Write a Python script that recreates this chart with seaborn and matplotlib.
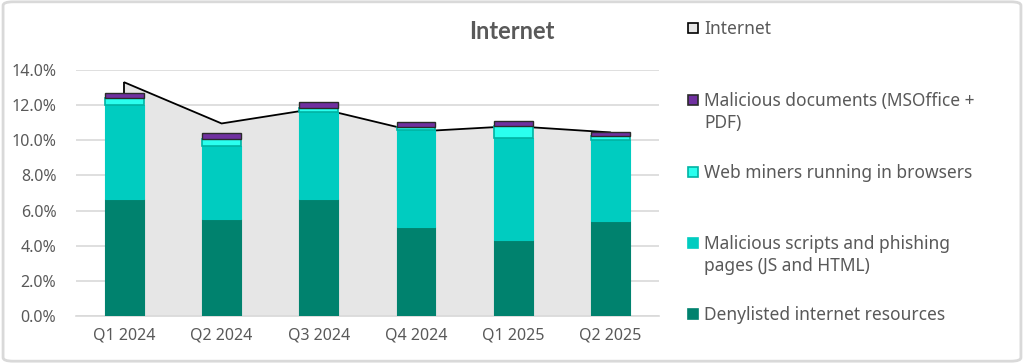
import numpy as np
import pandas as pd
import matplotlib
matplotlib.use('Agg')
import matplotlib.pyplot as plt
import matplotlib.patches as mpatches
import seaborn as sns

# data (percent)
quarters = ['Q1 2024', 'Q2 2024', 'Q3 2024', 'Q4 2024', 'Q1 2025', 'Q2 2025']
denylisted = [6.65, 5.51, 6.65, 5.07, 4.35, 5.38]
scripts = [5.35, 4.18, 4.95, 5.49, 5.81, 4.63]
miners = [0.39, 0.40, 0.25, 0.21, 0.65, 0.23]
documents = [0.28, 0.30, 0.31, 0.28, 0.27, 0.25]
internet = [13.3, 10.96, 11.83, 10.5, 10.81, 10.45]

sns.set_theme(style='white')
plt.rcParams['font.family'] = ['Noto Sans', 'DejaVu Sans']
grey_txt = '#595959'

fig = plt.figure(figsize=(10.24, 3.63), dpi=100)
ax = fig.add_axes([0.074, 0.1295, 0.5696, 0.6775])

df = pd.DataFrame({'Quarter': quarters, 'Internet': internet})
df['pos'] = np.arange(len(quarters))

#Internet area behind the bars
ax.fill_between(df['pos'], 0, df['Internet'], color='#e6e6e6', lw=0, zorder=1)
sns.lineplot(x='pos', y='Internet', data=df, color='black', lw=1.3, ax=ax, zorder=2)
ax.vlines([df['pos'].iloc[0], df['pos'].iloc[-1]], 0, [internet[0], internet[-1]],
          color='black', lw=1.3, zorder=2)

#Stacked bars
x = df['pos'].values
w = 0.4
b1 = np.array(denylisted)
b2 = b1 + np.array(scripts)
b3 = b2 + np.array(miners)
ax.bar(x, denylisted, w, color='#00826e', edgecolor='#00826e', lw=0.8, zorder=3)
ax.bar(x, scripts, w, bottom=b1, color='#00ccc0', edgecolor='#00ccc0', lw=0.8, zorder=3)
ax.bar(x, miners, w, bottom=b2, color='#2affee', edgecolor='#00b3a3', lw=1.2, zorder=3)
ax.bar(x, documents, w, bottom=b3, color='#7030a0', edgecolor='#2b2b2b', lw=1.0, zorder=3)

ax.set_xlim(-0.5, 5.5)
ax.set_ylim(0, 14)
ax.set_yticks(np.arange(0, 14.1, 2))
ax.set_yticklabels(['%.1f%%' % v for v in np.arange(0, 14.1, 2)])
ax.set_xticks(x)
ax.set_xticklabels(quarters)
ax.set_xlabel('')
ax.set_ylabel('')
ax.yaxis.grid(True, color='#d9d9d9', lw=1.2, zorder=0)
ax.set_axisbelow(True)
for s in ['left', 'right', 'top']:
    ax.spines[s].set_visible(False)
ax.spines['bottom'].set_color('#d9d9d9')
ax.spines['bottom'].set_linewidth(1.2)
ax.tick_params(axis='both', length=0, labelsize=11.5, labelcolor=grey_txt)
ax.tick_params(axis='y', pad=14)
ax.tick_params(axis='x', pad=8)

fig.text(0.5, 0.912, 'Internet', ha='center', va='center', fontsize=17,
         fontweight='bold', color=grey_txt, family=['Lato', 'DejaVu Sans'])

#Legend drawn by hand to keep Excel-like spacing
legend_items = [
    ('Internet', '#e6e6e6', 'black', 28),
    ('Malicious documents (MSOffice +\nPDF)', '#7030a0', '#2b2b2b', 100),
    ('Web miners running in browsers', '#2affee', '#00b3a3', 172),
    ('Malicious scripts and phishing\npages (JS and HTML)', '#00ccc0', '#00ccc0', 243),
    ('Denylisted internet resources', '#00826e', '#00826e', 314),
]
for label, fc, ec, ypix in legend_items:
    fy = 1 - ypix / 363
    fig.patches.append(mpatches.Rectangle((688 / 1024, fy - 5 / 363), 10 / 1024, 10 / 363,
                                          transform=fig.transFigure, facecolor=fc,
                                          edgecolor=ec, lw=1.2))
    fig.text(704 / 1024, fy + 8 / 363, label, ha='left', va='top', fontsize=12.5,
             color=grey_txt, linespacing=1.3)

fig.patches.append(mpatches.FancyBboxPatch((0.003, 0.005), 0.994, 0.99,
                                           boxstyle='round,pad=0,rounding_size=0.01',
                                           transform=fig.transFigure, facecolor='none',
                                           edgecolor='#d9d9d9', lw=2))

fig.savefig('out.png', dpi=100)
